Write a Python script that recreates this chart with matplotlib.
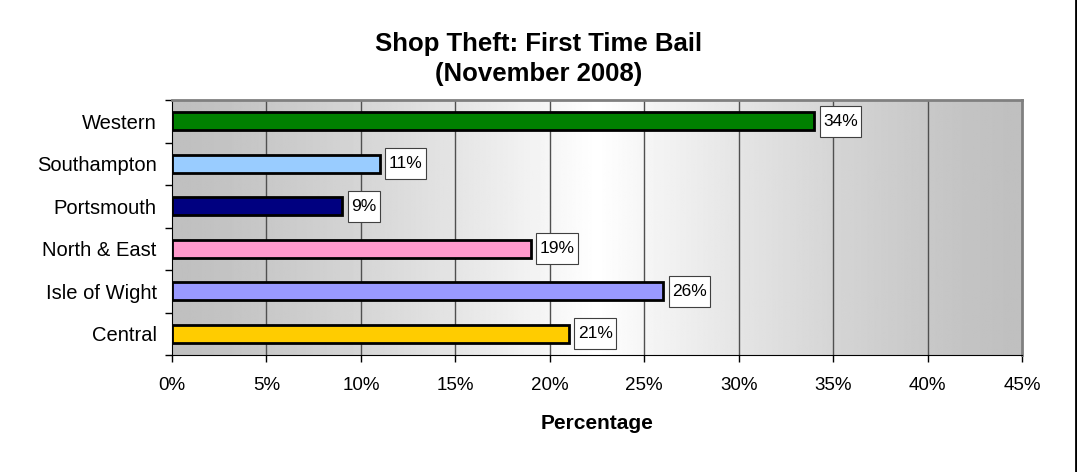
import numpy as np
import matplotlib
matplotlib.use("Agg")
import matplotlib.pyplot as plt
from matplotlib.lines import Line2D
from matplotlib.path import Path

categories = ["Western", "Southampton", "Portsmouth", "North & East", "Isle of Wight", "Central"]
values = [34, 11, 9, 19, 26, 21]
bar_colors = ["#008000", "#99CCFF", "#000080", "#FF99CC", "#9999FF", "#FFCC00"]
xticks = [0, 5, 10, 15, 20, 25, 30, 35, 40, 45]
xtick_labels = [f"{t}%" for t in xticks]

plt.rcParams['font.family'] = ['Liberation Sans', 'DejaVu Sans']

fig = plt.figure(figsize=(10.77, 4.72), dpi=100)
ax = fig.add_axes([172/1077, 1-355/472, (1022-172)/1077, (355-100)/472])

# gradient background
xs = np.linspace(0, 1, 600)
t = 1 - np.abs(xs - 0.5) / 0.5
g = 0.75 + 0.25 * t ** 1.3
img = np.tile(g, (2, 1))
ax.imshow(img, cmap='gray', vmin=0, vmax=1, aspect='auto',
          extent=[0, 45, -0.5, len(categories) - 0.5], zorder=0, interpolation='bilinear')

ypos = np.arange(len(categories))[::-1]
ax.set_xlim(0, 45)
ax.set_ylim(-0.5, len(categories) - 0.5)

for x in xticks[1:-1]:
    ax.axvline(x, color='#505050', lw=1, zorder=1)

ax.barh(ypos, values, height=0.42, color=bar_colors, edgecolor='black', linewidth=2, zorder=2)


def label_box(x0, y0, width, height, mutation_size):
    px = 0.2 * mutation_size
    py = 0.45 * mutation_size
    x0, x1 = x0 - px, x0 + width + px
    y0, y1 = y0 - py, y0 + height + py
    return Path([(x0, y0), (x1, y0), (x1, y1), (x0, y1), (x0, y0)],
                [Path.MOVETO, Path.LINETO, Path.LINETO, Path.LINETO, Path.CLOSEPOLY])


for y, v in zip(ypos, values):
    ax.annotate(f"{v}%", xy=(v, y), xytext=(6.5, 0), textcoords='offset points',
                ha='left', va='center', fontsize=12.5, zorder=3,
                bbox=dict(boxstyle=label_box, fc='white', ec='#404040', lw=0.8))

ax.set_xticks(xticks)
ax.set_xticklabels(xtick_labels, fontsize=13.5)
ax.set_yticks(np.arange(len(categories) + 1) - 0.5, minor=False)
ax.set_yticklabels([])
ax.set_yticks(ypos, minor=True)
ax.set_yticklabels(categories, minor=True, fontsize=14.5)
ax.tick_params(axis='y', which='major', length=5, width=1, direction='out')
ax.tick_params(axis='y', which='minor', length=0, pad=11)
ax.tick_params(axis='x', length=5, width=1, direction='out', pad=11)

ax.spines['left'].set_color('black')
ax.spines['bottom'].set_color('black')
ax.spines['top'].set_color('#808080')
ax.spines['right'].set_color('#808080')
ax.spines['top'].set_linewidth(2)
ax.spines['right'].set_linewidth(2)

ax.set_xlabel("Percentage", fontsize=15, fontweight='bold', labelpad=14)

fig.text(0.5, 1 - 59/472, "Shop Theft: First Time Bail\n(November 2008)", ha='center', va='center',
         fontsize=18.5, fontweight='bold', linespacing=1.3)

fig.add_artist(Line2D([1075.5/1077, 1075.5/1077], [0, 1], color='black', lw=2, transform=fig.transFigure))

fig.savefig("out.png", dpi=100)
